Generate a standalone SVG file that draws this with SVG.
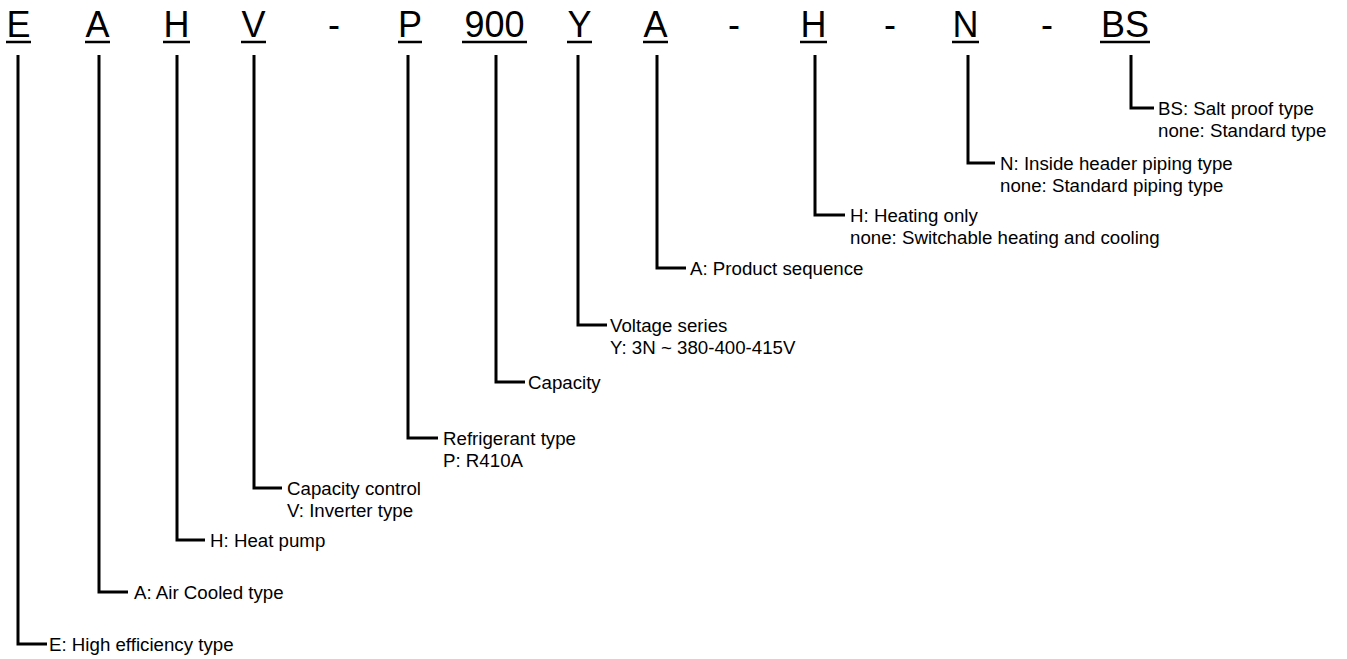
<svg xmlns="http://www.w3.org/2000/svg" width="1347" height="659" viewBox="0 0 1347 659">
<style>
.big{font-family:"Liberation Sans",Arial,sans-serif;font-size:36px;fill:#000;text-anchor:middle}
.lbl{font-family:"Liberation Sans",Arial,sans-serif;font-size:18.7px;fill:#000}
.ul{stroke:#000;stroke-width:2.7;fill:none}
.con{stroke:#000;stroke-width:3;fill:none}
</style>
<rect width="1347" height="659" fill="#fff"/>
<g id="code">
<text class="big" x="18.5" y="37">E</text>
<text class="big" x="97.5" y="37">A</text>
<text class="big" x="176.5" y="37">H</text>
<text class="big" x="253.5" y="37">V</text>
<text class="big" x="334" y="37">-</text>
<text class="big" x="410" y="37">P</text>
<text class="big" x="494.5" y="37">900</text>
<text class="big" x="579.5" y="37">Y</text>
<text class="big" x="655.5" y="37">A</text>
<text class="big" x="734" y="37">-</text>
<text class="big" x="813.5" y="37">H</text>
<text class="big" x="890" y="37">-</text>
<text class="big" x="965.5" y="37">N</text>
<text class="big" x="1047" y="37">-</text>
<text class="big" x="1125" y="37">BS</text>
<path class="ul" d="M6 42H31M85 42H110M163 42H190M241 42H266M398 42H422M462 42H527M567 42H592M643 42H668M800 42H827M952 42H979M1100 42H1150"/>
</g>
<g id="connectors">
<path class="con" d="M18 55V644H47"/>
<path class="con" d="M99 55V592H128"/>
<path class="con" d="M177 55V540H205"/>
<path class="con" d="M254 55V488H282"/>
<path class="con" d="M408 55V438H438"/>
<path class="con" d="M496 55V382H525"/>
<path class="con" d="M578 55V325H607"/>
<path class="con" d="M657 55V268H686"/>
<path class="con" d="M815 55V215H845"/>
<path class="con" d="M968 55V163H995"/>
<path class="con" d="M1131 55V108H1154"/>
</g>
<g id="label-E"><text class="lbl" x="49" y="650.5">E: High efficiency type</text></g>
<g id="label-A"><text class="lbl" x="134" y="598.5">A: Air Cooled type</text></g>
<g id="label-H"><text class="lbl" x="210" y="546.5">H: Heat pump</text></g>
<g id="label-V"><text class="lbl" x="287" y="494.5">Capacity control</text><text class="lbl" x="287" y="517">V: Inverter type</text></g>
<g id="label-P"><text class="lbl" x="443" y="444.5">Refrigerant type</text><text class="lbl" x="443" y="467">P: R410A</text></g>
<g id="label-900"><text class="lbl" x="528" y="388.5">Capacity</text></g>
<g id="label-Y"><text class="lbl" x="610" y="331.5">Voltage series</text><text class="lbl" x="610" y="354">Y: 3N ~ 380-400-415V</text></g>
<g id="label-A2"><text class="lbl" x="690" y="274.5">A: Product sequence</text></g>
<g id="label-H2"><text class="lbl" x="850" y="221.5">H: Heating only</text><text class="lbl" x="850" y="244">none: Switchable heating and cooling</text></g>
<g id="label-N"><text class="lbl" x="1000" y="169.5">N: Inside header piping type</text><text class="lbl" x="1000" y="192">none: Standard piping type</text></g>
<g id="label-BS"><text class="lbl" x="1158" y="114.5">BS: Salt proof type</text><text class="lbl" x="1158" y="137">none: Standard type</text></g>
</svg>
